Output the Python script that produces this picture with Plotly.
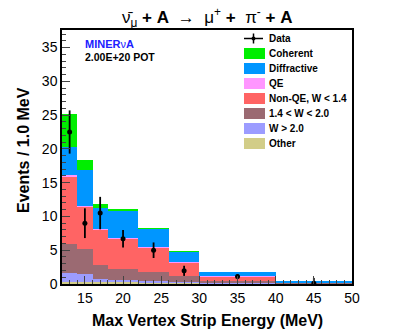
import plotly.graph_objects as go

# bin edges (MeV) and stacked MC components, events / 1.0 MeV
bin_edges = [12, 14, 16, 18, 22, 26, 30, 40, 50]
other = [0.35, 0.30, 0.30, 0.25, 0.20, 0.15, 0.10, 0.05]
w_gt_20 = [1.32, 1.18, 0.40, 0.34, 0.25, 0.20, 0.10, 0.03]
w_14_20 = [4.19, 3.69, 2.10, 1.61, 1.28, 0.88, 0.27, 0.07]
non_qe = [9.99, 6.23, 5.27, 4.55, 3.67, 2.02, 0.71, 0.07]
qe = [0.25, 0.10, 0.03, 0.05, 0.02, 0.02, 0.01, 0.0]
diffractive = [4.20, 5.45, 3.20, 4.10, 2.78, 1.51, 0.61, 0.13]
coherent = [4.80, 1.45, 0.47, 0.10, 0.05, 0.02, 0.0, 0.0]

data_vals = [22.5, 9.0, 10.5, 6.7, 5.0, 1.95, 1.1, 0.1]
data_errs = [3.2, 2.2, 2.4, 1.3, 1.15, 0.75, 0.35, 0.8]

components = [
    ("Other", other, "#d2cd88"),
    ("W > 2.0", w_gt_20, "#9c9cff"),
    ("1.4 < W < 2.0", w_14_20, "#9b6a72"),
    ("Non-QE, W < 1.4", non_qe, "#ff6464"),
    ("QE", qe, "#ff96ff"),
    ("Diffractive", diffractive, "#0096ff"),
    ("Coherent", coherent, "#00ee00"),
]

centers = [(a + b) / 2 for a, b in zip(bin_edges[:-1], bin_edges[1:])]
widths = [b - a for a, b in zip(bin_edges[:-1], bin_edges[1:])]

FONT = "Liberation Sans"

fig = go.Figure()
for name, vals, col in components:
    fig.add_trace(go.Bar(x=centers, y=vals, width=widths, name=name,
                         marker=dict(color=col, line_width=0), showlegend=False))

fig.add_trace(go.Scatter(
    x=centers, y=data_vals, mode="markers", name="Data", showlegend=False,
    marker=dict(size=5, color="black"),
    error_y=dict(type="data", array=data_errs, thickness=1.8, width=0, color="black"),
))

# page body adds an 8px margin, so the figure is drawn 8px in from the window edge
OFF = 8
W, H = 415 - OFF, 335 - OFF
# plot area in window pixels: x 62..352, y 30..284
L, R, T, B = 62, 352, 30, 284


def px(x):
    return (x - L) / (R - L)


def py(y):
    return (B - y) / (B - T)


shapes = []
annotations = []
legend_items = [("Data", None)] + [(n, c) for n, _, c in reversed(components)]
for i, (name, col) in enumerate(legend_items):
    yc = 38.5 + 15 * i
    if col is None:
        shapes.append(dict(type="line", xref="paper", yref="paper", x0=px(244), x1=px(263),
                           y0=py(yc), y1=py(yc), line=dict(color="black", width=1.5)))
        shapes.append(dict(type="line", xref="paper", yref="paper", x0=px(253.5), x1=px(253.5),
                           y0=py(yc - 5), y1=py(yc + 5), line=dict(color="black", width=1.5)))
        shapes.append(dict(type="circle", xref="paper", yref="paper", x0=px(251.5), x1=px(255.5),
                           y0=py(yc - 2), y1=py(yc + 2), fillcolor="black", line_width=0))
    else:
        shapes.append(dict(type="rect", xref="paper", yref="paper", x0=px(244), x1=px(265),
                           y0=py(yc - 5.5), y1=py(yc + 5.5), fillcolor=col, line_width=0))
    annotations.append(dict(text=f"<b>{name.replace('<', '&lt;')}</b>", xref="paper", yref="paper",
                            x=px(267), y=py(yc), xanchor="left", yanchor="middle", showarrow=False,
                            font=dict(family=FONT, size=10, color="black")))

annotations += [
    dict(text="<b>MINER</b>ν<b>A</b>", xref="paper", yref="paper", x=px(83), y=py(44),
         xanchor="left", yanchor="middle", showarrow=False,
         font=dict(family=FONT, size=11, color="#2020ff")),
    dict(text="<b>2.00E+20 POT</b>", xref="paper", yref="paper", x=px(83), y=py(56.5),
         xanchor="left", yanchor="middle", showarrow=False,
         font=dict(family=FONT, size=10.5, color="black")),
    dict(text="<b>Events / 1.0 MeV</b>", xref="paper", yref="paper", x=px(23), y=py(150),
         xanchor="center", yanchor="middle", textangle=-90, showarrow=False,
         font=dict(family=FONT, size=16, color="black")),
    dict(text="<b>Max Vertex Strip Energy (MeV)</b>", xref="paper", yref="paper", x=0.5, y=py(320),
         xanchor="center", yanchor="middle", showarrow=False,
         font=dict(family=FONT, size=16, color="black")),
    dict(text="ν\u0304<sub>μ</sub><b> + A </b> →  μ<sup>+</sup><b> + </b> π<sup>-</sup><b> + A</b>",
         xref="paper", yref="paper", x=0.5, y=py(17.5), xanchor="center", yanchor="middle",
         showarrow=False, font=dict(family=FONT, size=17, color="black")),
]

axis_common = dict(
    showgrid=False, zeroline=False, showline=True, linecolor="black", linewidth=1.5,
    mirror=True, ticks="inside", ticklen=8, tickwidth=1, tickcolor="#444",
    minor=dict(ticks="inside", ticklen=4, dtick=1, tickcolor="#444", showgrid=False),
    tickfont=dict(family=FONT, size=14, color="black"),
)

fig.update_xaxes(range=[12, 50], tick0=0, dtick=5, **axis_common)
fig.update_yaxes(range=[0, 37.6], tick0=0, dtick=5, **axis_common)

fig.update_layout(
    width=W, height=H, barmode="stack", bargap=0,
    margin=dict(l=L - OFF, r=W - (R - OFF), t=T - OFF, b=H - (B - OFF)),
    paper_bgcolor="white", plot_bgcolor="white",
    shapes=shapes, annotations=annotations, showlegend=False,
)

fig.write_html("out.html")
